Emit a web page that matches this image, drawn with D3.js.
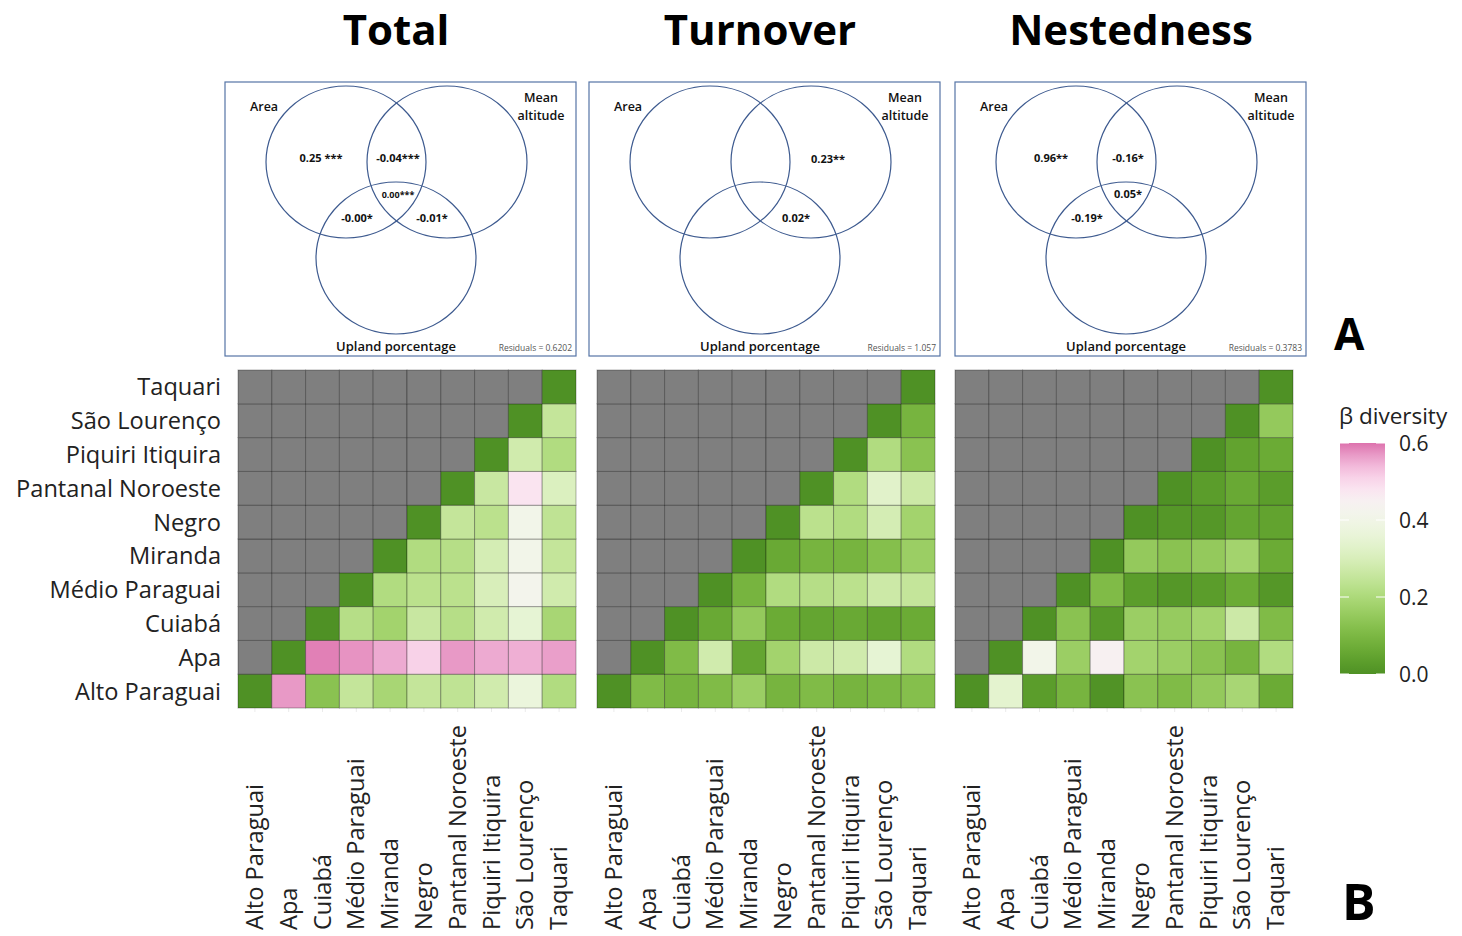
<!DOCTYPE html>
<html>
<head>
<meta charset="utf-8">
<script src="https://cdn.jsdelivr.net/npm/d3@7"></script>
<style>
  html, body { margin: 0; padding: 0; background: #fff; }
  svg { display: block; font-family: "Open Sans", "Noto Sans", sans-serif; }
</style>
</head>
<body>
<svg id="fig" width="1462" height="936"></svg>
<script>
// Sub-basins of the Upper Paraguay basin (same order on both axes)
const sites = ["Alto Paraguai", "Apa", "Cuiabá", "Médio Paraguai", "Miranda", "Negro",
               "Pantanal Noroeste", "Piquiri Itiquira", "São Lourenço", "Taquari"];

// Pairwise beta diversity, row i holds columns i..9 (diagonal first)
const totalBeta = [
  [0, 0.57, 0.13, 0.25, 0.19, 0.25, 0.24, 0.28, 0.37, 0.21],
  [0, 0.59, 0.575, 0.555, 0.51, 0.57, 0.555, 0.55, 0.565],
  [0, 0.22, 0.18, 0.26, 0.22, 0.28, 0.35, 0.19],
  [0, 0.21, 0.23, 0.23, 0.30, 0.42, 0.28],
  [0, 0.21, 0.22, 0.29, 0.41, 0.25],
  [0, 0.25, 0.23, 0.41, 0.24],
  [0, 0.26, 0.48, 0.31],
  [0, 0.28, 0.21],
  [0, 0.25],
  [0]
];
const turnoverBeta = [
  [0, 0.11, 0.09, 0.11, 0.165, 0.09, 0.11, 0.09, 0.10, 0.12],
  [0, 0.11, 0.28, 0.05, 0.18, 0.27, 0.28, 0.35, 0.21],
  [0, 0.06, 0.15, 0.065, 0.05, 0.06, 0.045, 0.065],
  [0, 0.09, 0.21, 0.22, 0.23, 0.27, 0.25],
  [0, 0.06, 0.09, 0.09, 0.12, 0.165],
  [0, 0.23, 0.21, 0.29, 0.18],
  [0, 0.21, 0.33, 0.27],
  [0, 0.21, 0.13],
  [0, 0.09],
  [0]
];
const nestedBeta = [
  [0, 0.34, 0.03, 0.09, 0.005, 0.13, 0.11, 0.15, 0.19, 0.065],
  [0, 0.41, 0.165, 0.45, 0.18, 0.165, 0.13, 0.09, 0.21],
  [0, 0.13, 0.02, 0.165, 0.155, 0.18, 0.27, 0.11],
  [0, 0.11, 0.03, 0.015, 0.03, 0.065, 0.015],
  [0, 0.15, 0.13, 0.15, 0.18, 0.065],
  [0, 0.015, 0.015, 0.05, 0.045],
  [0, 0.03, 0.06, 0.03],
  [0, 0.045, 0.065],
  [0, 0.15],
  [0]
];

// Variation partitioning: fractions per region of the Venn diagram
// A = Area, M = Mean altitude, U = Upland porcentage
const panelTitles = ["Total", "Turnover", "Nestedness"];
const totalFractions = [
  { region: "A", label: "0.25 ***" }, { region: "AM", label: "-0.04***" },
  { region: "AMU", label: "0.00***" }, { region: "AU", label: "-0.00*" },
  { region: "MU", label: "-0.01*" }
];
const turnoverFractions = [
  { region: "M", label: "0.23**" }, { region: "MU", label: "0.02*" }
];
const nestedFractions = [
  { region: "A", label: "0.96**" }, { region: "AM", label: "-0.16*" },
  { region: "AMU", label: "0.05*" }, { region: "AU", label: "-0.19*" }
];
const residuals = ["0.6202", "1.057", "0.3783"];
const legendTicks = [0, 0.2, 0.4, 0.6];

const svg = d3.select("#fig");

// Colour scale: green (low) -> white -> pink (high), PiYG palette
const tScale = d3.scaleLinear().domain([0, 0.44, 0.6]).range([0.9, 0.5, 0.2]).clamp(true);
const fillOf = v => v == null ? "#7f7f7f" : d3.interpolatePiYG(tScale(v));

// ---------- Panel titles ----------
const titleX = [396, 760, 1131];
svg.selectAll("text.ptitle").data(panelTitles).join("text")
  .attr("class", "ptitle")
  .attr("x", (d, i) => titleX[i]).attr("y", 45)
  .attr("text-anchor", "middle")
  .attr("font-size", 42).attr("font-weight", 700).attr("fill", "#000")
  .text(d => d);

// ---------- Venn diagrams ----------
const boxX = [225, 589, 955];
const boxY = 82, boxW = 351, boxH = 274;
const circles = [
  { key: "A", cx: 121, cy: 80 },
  { key: "M", cx: 222, cy: 80 },
  { key: "U", cx: 171, cy: 176 }
];
const regionPos = {
  A: [96, 76], M: [239, 77], AM: [173, 76], AMU: [173, 112], AU: [132, 136], MU: [207, 136]
};
const fractionSets = [totalFractions, turnoverFractions, nestedFractions];

boxX.forEach((bx, p) => {
  const g = svg.append("g").attr("transform", `translate(${bx},${boxY})`);
  g.append("rect").attr("width", boxW).attr("height", boxH)
    .attr("fill", "#fff").attr("stroke", "#5574a6").attr("stroke-width", 1.2);
  g.selectAll("ellipse").data(circles).join("ellipse")
    .attr("cx", d => d.cx).attr("cy", d => d.cy).attr("rx", 80).attr("ry", 76)
    .attr("fill", "none").attr("stroke", "#3d5a8f").attr("stroke-width", 1.2);
  g.append("text").attr("x", 25).attr("y", 29)
    .attr("font-size", 12.5).attr("font-weight", 600).attr("fill", "#111").text("Area");
  g.append("text").attr("x", 316).attr("y", 20).attr("text-anchor", "middle")
    .attr("font-size", 12.5).attr("font-weight", 600).attr("fill", "#111").text("Mean");
  g.append("text").attr("x", 316).attr("y", 38).attr("text-anchor", "middle")
    .attr("font-size", 12.5).attr("font-weight", 600).attr("fill", "#111").text("altitude");
  g.append("text").attr("x", 171).attr("y", 269).attr("text-anchor", "middle")
    .attr("font-size", 13).attr("font-weight", 600).attr("fill", "#111").text("Upland porcentage");
  g.append("text").attr("x", 347).attr("y", 269).attr("text-anchor", "end")
    .attr("font-size", 8.5).attr("fill", "#555").text("Residuals = " + residuals[p]);
  g.selectAll("text.frac").data(fractionSets[p]).join("text")
    .attr("class", "frac")
    .attr("x", d => regionPos[d.region][0])
    .attr("y", d => regionPos[d.region][1] + 4)
    .attr("text-anchor", "middle")
    .attr("font-size", d => (d.region === "AMU" && d.label.length > 6) ? 9 : 11)
    .attr("font-weight", 700).attr("fill", "#111")
    .text(d => d.label);
});

// ---------- Heatmaps ----------
const heatX = [238, 597, 955];
const heatTop = 370, heatSize = 338;
const matrices = [totalBeta, turnoverBeta, nestedBeta];

heatX.forEach((hx, p) => {
  const x = d3.scaleBand().domain(sites).range([hx, hx + heatSize]);
  const y = d3.scaleBand().domain(sites.slice().reverse()).range([heatTop, heatTop + heatSize]);
  const cells = [];
  sites.forEach((rowSite, i) => {
    sites.forEach((colSite, j) => {
      cells.push({ row: rowSite, col: colSite, value: j >= i ? matrices[p][i][j - i] : null });
    });
  });
  const g = svg.append("g");
  // faint grid tick marks beyond the panel
  g.selectAll("line.gx").data(sites).join("line")
    .attr("x1", d => x(d) + x.bandwidth() / 2).attr("x2", d => x(d) + x.bandwidth() / 2)
    .attr("y1", heatTop + heatSize).attr("y2", heatTop + heatSize + 4)
    .attr("stroke", "#ebebeb").attr("stroke-width", 1);
  g.selectAll("rect.cell").data(cells).join("rect")
    .attr("class", "cell")
    .attr("x", d => x(d.col)).attr("y", d => y(d.row))
    .attr("width", x.bandwidth()).attr("height", y.bandwidth())
    .attr("fill", d => fillOf(d.value))
    .attr("stroke", "rgba(0,0,0,0.3)").attr("stroke-width", 1);

  // x-axis labels, rotated and aligned at the bottom
  g.selectAll("text.xl").data(sites).join("text")
    .attr("class", "xl")
    .attr("transform", d => `translate(${x(d) + x.bandwidth() / 2 + 8},930) rotate(-90)`)
    .attr("font-size", 23.6).attr("fill", "#222")
    .text(d => d);

  if (p === 0) {
    g.selectAll("text.yl").data(sites).join("text")
      .attr("class", "yl")
      .attr("x", 221).attr("y", d => y(d) + y.bandwidth() / 2 + 8.5)
      .attr("text-anchor", "end")
      .attr("font-size", 23.6).attr("fill", "#222")
      .text(d => d);
  }
});

// ---------- Colour bar ----------
const barX = 1340, barW = 45;
const by = d3.scaleLinear().domain([0, 0.6]).range([674, 443]);
const defs = svg.append("defs");
const grad = defs.append("linearGradient").attr("id", "betaGrad")
  .attr("x1", 0).attr("y1", 1).attr("x2", 0).attr("y2", 0);
d3.range(0, 1.0001, 0.05).forEach(f => {
  grad.append("stop").attr("offset", f).attr("stop-color", fillOf(f * 0.6));
});
svg.append("rect").attr("x", barX).attr("y", by(0.6)).attr("width", barW)
  .attr("height", by(0) - by(0.6)).attr("fill", "url(#betaGrad)");
const tickG = svg.append("g");
legendTicks.forEach(t => {
  tickG.append("line").attr("x1", barX).attr("x2", barX + 9)
    .attr("y1", by(t)).attr("y2", by(t)).attr("stroke", "#fff").attr("stroke-width", 1);
  tickG.append("line").attr("x1", barX + barW - 9).attr("x2", barX + barW)
    .attr("y1", by(t)).attr("y2", by(t)).attr("stroke", "#fff").attr("stroke-width", 1);
});
svg.selectAll("text.lt").data(legendTicks).join("text")
  .attr("class", "lt")
  .attr("x", 1399).attr("y", d => by(d) + 8)
  .attr("font-size", 21).attr("fill", "#222")
  .text(d => d.toFixed(1));
svg.append("text").attr("x", 1339).attr("y", 424)
  .attr("font-size", 22.5).attr("fill", "#222").text("β diversity");

// ---------- Figure part letters ----------
svg.append("text").attr("x", 1334).attr("y", 350)
  .attr("font-size", 44).attr("font-weight", 700).attr("fill", "#000").text("A");
svg.append("text").attr("x", 1342).attr("y", 920)
  .attr("font-size", 50).attr("font-weight", 700).attr("fill", "#000").text("B");
</script>
</body>
</html>
